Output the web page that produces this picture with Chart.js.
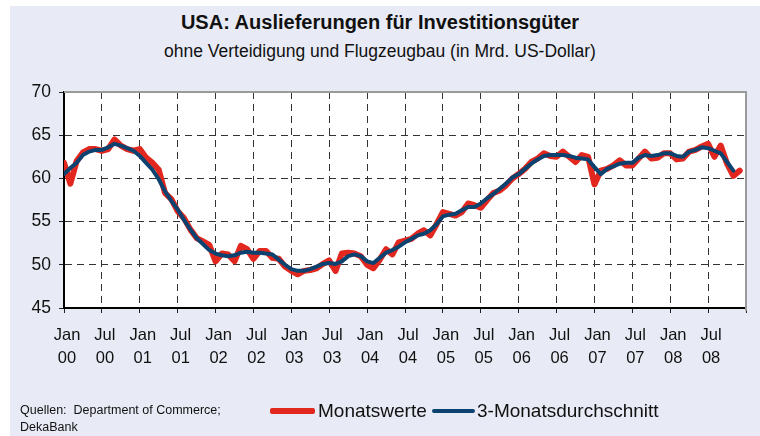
<!DOCTYPE html>
<html>
<head>
<meta charset="utf-8">
<script src="https://cdn.jsdelivr.net/npm/chart.js@4.4.1/dist/chart.umd.min.js"></script>
<style>
  body { margin: 0; background: #fff; font-family: "Liberation Sans", Arial, sans-serif; color: #111; }
  #wrap { position: relative; width: 760px; height: 436px; overflow: hidden; }
  #panel { position: absolute; left: 10px; top: 6px; right: 0; bottom: 0; background: #e8ebf5; }
  #chart { position: absolute; left: 0; top: 0; }
  .txt { position: absolute; white-space: nowrap; }
  #title { left: 0; width: 760px; text-align: center; top: 10px; font-size: 20px; font-weight: bold; line-height: 24px; }
  #subtitle { left: 0; width: 760px; text-align: center; top: 40px; font-size: 17.5px; line-height: 22px; }
  .swatch { position: absolute; border-radius: 2px; }
  .leg { font-size: 19px; line-height: 20px; top: 401px; }
  .src { left: 20px; font-size: 12.5px; line-height: 17px; }
</style>
</head>
<body>
<div id="wrap">
  <div id="panel"></div>
  <div class="txt" id="title">USA: Auslieferungen für Investitionsgüter</div>
  <div class="txt" id="subtitle">ohne Verteidigung und Flugzeugbau (in Mrd. US-Dollar)</div>
  <canvas id="chart" width="760" height="436"></canvas>
  <div class="txt src" style="top:402px">Quellen: &nbsp;Department of Commerce;</div>
  <div class="txt src" style="top:419px">DekaBank</div>
  <div class="swatch" id="sw-red" style="left:270px;top:408px;width:45px;height:6px"></div>
  <div class="txt leg" style="left:318px">Monatswerte</div>
  <div class="swatch" id="sw-blue" style="left:432px;top:409px;width:43px;height:4px"></div>
  <div class="txt leg" style="left:477px">3-Monatsdurchschnitt</div>
</div>
<script>
// monthly values Jan 2000 .. Dec 2008 (index 0 = Jan 00)
const monthlyValues = [
  61.8, 59.4, 62.0, 63.0, 63.4, 63.4, 63.2, 63.4, 64.5, 63.8, 63.4, 63.2,
  63.4, 62.4, 61.8, 61.0, 58.3, 57.6, 56.2, 55.4, 54.1, 53.1, 52.7, 52.3,
  50.4, 51.3, 51.2, 50.4, 52.2, 51.8, 50.7, 51.6, 51.6, 50.8, 50.7, 49.8,
  49.3, 48.9, 49.3, 49.4, 49.6, 50.1, 50.5, 49.3, 51.3, 51.4, 51.3, 51.0,
  50.0, 49.6, 50.6, 51.8, 51.2, 52.6, 52.8, 53.0, 53.6, 54.0, 53.4, 54.7,
  56.1, 55.9, 55.7, 56.1, 57.1, 56.9, 56.6, 57.5, 58.3, 58.6, 59.2, 60.0,
  60.5, 61.1, 61.9, 62.3, 62.9, 62.6, 62.5, 63.1, 62.5, 61.9, 62.7, 62.5,
  59.3, 60.9, 61.1, 61.5, 62.1, 61.5, 61.5, 62.3, 63.1, 62.3, 62.4, 62.9,
  62.9, 62.2, 62.3, 63.1, 63.3, 63.7, 64.0, 62.5, 63.8, 61.7, 60.3, 60.9
];
// 3-month average, Jan 2000 .. Nov 2008
const avgValues = [
  60.5, 61.2, 61.8, 62.7, 63.1, 63.3, 63.3, 63.6, 64.0, 63.8, 63.5, 63.2,
  62.6, 61.8, 61.0, 59.9, 58.5, 57.4, 56.4, 55.2, 54.1, 53.1, 52.4, 51.7,
  51.3, 51.1, 51.0, 51.1, 51.4, 51.5, 51.4, 51.4, 51.3, 51.2, 50.6, 50.0,
  49.5, 49.3, 49.3, 49.5, 49.8, 50.1, 50.2, 50.1, 50.4, 51.0, 51.2, 51.0,
  50.4, 50.2, 50.8, 51.4, 51.7, 52.1, 52.6, 53.0, 53.4, 53.6, 54.0, 54.7,
  55.6, 55.8, 55.9, 56.3, 56.7, 56.7, 57.1, 57.7, 58.2, 58.8, 59.4, 60.1,
  60.5, 61.1, 61.7, 62.2, 62.6, 62.7, 62.7, 62.7, 62.6, 62.4, 62.3, 62.2,
  61.3, 60.5, 61.1, 61.4, 61.7, 61.8, 61.8, 62.4, 62.7, 62.6, 62.7, 62.9,
  62.9, 62.6, 62.5, 63.1, 63.3, 63.6, 63.5, 63.2, 62.9, 61.9, 60.9
];
const tickLabels = [
  ['Jan', '00'], ['Jul', '00'], ['Jan', '01'], ['Jul', '01'], ['Jan', '02'], ['Jul', '02'],
  ['Jan', '03'], ['Jul', '03'], ['Jan', '04'], ['Jul', '04'], ['Jan', '05'], ['Jul', '05'],
  ['Jan', '06'], ['Jul', '06'], ['Jan', '07'], ['Jul', '07'], ['Jan', '08'], ['Jul', '08']
];
const seriesNames = ['Monatswerte', '3-Monatsdurchschnitt'];

const RED = '#e2271f';
const BLUE = '#0c4270';
const GRID = '#333';
document.getElementById('sw-red').style.background = RED;
document.getElementById('sw-blue').style.background = BLUE;

const toPoints = (arr) => arr.map((v, i) => ({ x: i, y: v }));

// white plot area + grey top/right frame
const plotFrame = {
  id: 'plotFrame',
  beforeDraw(chart) {
    const { ctx, chartArea: a } = chart;
    ctx.save();
    ctx.fillStyle = '#fff';
    ctx.fillRect(a.left, a.top, a.right - a.left, a.bottom - a.top);
    ctx.restore();
  },
  afterDatasetsDraw(chart) {
    const { ctx, chartArea: a } = chart;
    ctx.save();
    ctx.strokeStyle = '#9a9a9a';
    ctx.lineWidth = 2;
    ctx.beginPath();
    ctx.moveTo(a.left, a.top);
    ctx.lineTo(a.right, a.top);
    ctx.lineTo(a.right, a.bottom + 3);
    ctx.stroke();
    ctx.restore();
  },
};

const hideEdge = (lo, hi) => (c) =>
  c.tick && (c.tick.value === lo || c.tick.value === hi) ? 'rgba(0,0,0,0)' : GRID;

new Chart(document.getElementById('chart'), {
  type: 'line',
  data: {
    datasets: [
      {
        label: seriesNames[1],
        data: toPoints(avgValues),
        borderColor: BLUE,
        borderWidth: 4,
        pointRadius: 0,
        tension: 0,
        borderJoinStyle: 'round',
        borderCapStyle: 'round',
        order: 1,
      },
      {
        label: seriesNames[0],
        data: toPoints(monthlyValues),
        borderColor: RED,
        borderWidth: 6,
        pointRadius: 0,
        tension: 0,
        borderJoinStyle: 'round',
        borderCapStyle: 'round',
        order: 2,
      },
    ],
  },
  options: {
    responsive: false,
    animation: false,
    layout: { padding: { left: 0, right: 14, top: 92, bottom: 68 } },
    plugins: { legend: { display: false }, title: { display: false }, tooltip: { enabled: false } },
    scales: {
      x: {
        type: 'linear',
        min: 0,
        max: 108,
        afterFit: (s) => { s.height = 60; },
        afterBuildTicks: (s) => {
          s.ticks = [];
          for (let v = 0; v <= 108; v += 6) s.ticks.push({ value: v });
        },
        ticks: {
          autoSkip: false,
          maxRotation: 0,
          padding: 10,
          labelOffset: 3,
          color: '#111',
          font: { family: '"Liberation Sans", Arial, sans-serif', size: 16.5, lineHeight: 1.45 },
          callback: (v) => tickLabels[v / 6] || '',
        },
        grid: { color: hideEdge(0, 108), lineWidth: 1, tickLength: 5, tickColor: '#222', tickWidth: 1 },
        border: { color: '#000', width: 2, dash: [7, 5] },
      },
      y: {
        min: 45,
        max: 70,
        afterFit: (s) => { s.width = 64; },
        ticks: {
          stepSize: 5,
          padding: 8,
          color: '#111',
          font: { family: '"Liberation Sans", Arial, sans-serif', size: 17.5 },
        },
        grid: { color: hideEdge(45, 70), lineWidth: 1, tickLength: 5, tickColor: '#222', tickWidth: 1 },
        border: { color: '#000', width: 2, dash: [7, 5] },
      },
    },
  },
  plugins: [plotFrame],
});
</script>
</body>
</html>
